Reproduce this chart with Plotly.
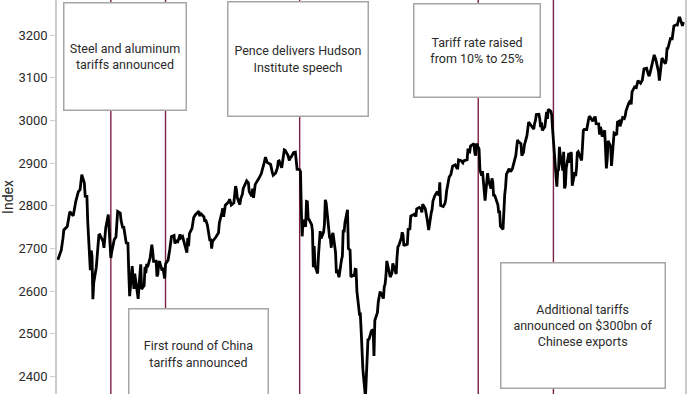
import plotly.graph_objects as go

dates = [
"2017-12-29","2018-01-02","2018-01-04","2018-01-05","2018-01-09","2018-01-12","2018-01-16","2018-01-18","2018-01-19","2018-01-22","2018-01-24","2018-01-26","2018-01-29","2018-01-30","2018-02-01","2018-02-02","2018-02-05","2018-02-06","2018-02-07","2018-02-08","2018-02-09","2018-02-12","2018-02-14","2018-02-15","2018-02-16","2018-02-20","2018-02-21","2018-02-23","2018-02-26","2018-02-27","2018-02-28","2018-03-01","2018-03-02","2018-03-05","2018-03-07","2018-03-09","2018-03-12","2018-03-13","2018-03-15","2018-03-16","2018-03-19","2018-03-21","2018-03-22","2018-03-23","2018-03-26","2018-03-27","2018-03-28","2018-03-29","2018-04-02","2018-04-03","2018-04-04","2018-04-05","2018-04-06","2018-04-09","2018-04-10","2018-04-11","2018-04-12","2018-04-13","2018-04-16","2018-04-18","2018-04-19","2018-04-20","2018-04-23","2018-04-24","2018-04-25","2018-04-26","2018-04-27","2018-04-30","2018-05-01","2018-05-02","2018-05-03","2018-05-04","2018-05-07","2018-05-09","2018-05-10","2018-05-11","2018-05-14","2018-05-15","2018-05-17","2018-05-18","2018-05-21","2018-05-22","2018-05-24","2018-05-25","2018-05-29","2018-05-30","2018-05-31","2018-06-01","2018-06-04","2018-06-06","2018-06-08","2018-06-12","2018-06-13","2018-06-14","2018-06-15","2018-06-18","2018-06-19","2018-06-20","2018-06-22","2018-06-25","2018-06-26","2018-06-27","2018-06-28","2018-06-29","2018-07-02","2018-07-05","2018-07-06","2018-07-09","2018-07-10","2018-07-11","2018-07-12","2018-07-13","2018-07-17","2018-07-18","2018-07-20","2018-07-23","2018-07-25","2018-07-26","2018-07-27","2018-07-30","2018-07-31","2018-08-02","2018-08-03","2018-08-07","2018-08-09","2018-08-10","2018-08-13","2018-08-14","2018-08-15","2018-08-16","2018-08-17","2018-08-21","2018-08-24","2018-08-27","2018-08-29","2018-08-31","2018-09-04","2018-09-06","2018-09-07","2018-09-10","2018-09-12","2018-09-13","2018-09-14","2018-09-17","2018-09-18","2018-09-20","2018-09-21","2018-09-24","2018-09-26","2018-09-27","2018-09-28","2018-10-01","2018-10-03","2018-10-04","2018-10-05","2018-10-08","2018-10-09","2018-10-10","2018-10-11","2018-10-12","2018-10-15","2018-10-16","2018-10-17","2018-10-18","2018-10-19","2018-10-22","2018-10-23","2018-10-24","2018-10-25","2018-10-26","2018-10-29","2018-10-30","2018-10-31","2018-11-01","2018-11-02","2018-11-05","2018-11-06","2018-11-07","2018-11-08","2018-11-09","2018-11-12","2018-11-13","2018-11-14","2018-11-15","2018-11-16","2018-11-19","2018-11-20","2018-11-21","2018-11-23","2018-11-26","2018-11-27","2018-11-28","2018-11-29","2018-11-30","2018-12-03","2018-12-04","2018-12-06","2018-12-07","2018-12-10","2018-12-11","2018-12-12","2018-12-13","2018-12-14","2018-12-17","2018-12-18","2018-12-19","2018-12-20","2018-12-21","2018-12-24","2018-12-26","2018-12-27","2018-12-28","2018-12-31",
"2019-01-02","2019-01-03","2019-01-04","2019-01-07","2019-01-08","2019-01-09","2019-01-10","2019-01-11","2019-01-14","2019-01-15","2019-01-16","2019-01-17","2019-01-18","2019-01-22","2019-01-23","2019-01-24","2019-01-25","2019-01-28","2019-01-29","2019-01-30","2019-01-31","2019-02-01","2019-02-04","2019-02-05","2019-02-06","2019-02-07","2019-02-08","2019-02-11","2019-02-12","2019-02-14","2019-02-15","2019-02-19","2019-02-21","2019-02-22","2019-02-25","2019-02-27","2019-02-28","2019-03-01","2019-03-04","2019-03-06","2019-03-07","2019-03-08","2019-03-11","2019-03-12","2019-03-13","2019-03-15","2019-03-18","2019-03-20","2019-03-21","2019-03-22","2019-03-25","2019-03-27","2019-03-28","2019-03-29","2019-04-01","2019-04-03","2019-04-05","2019-04-08","2019-04-10","2019-04-11","2019-04-12","2019-04-15","2019-04-17","2019-04-18","2019-04-22","2019-04-23","2019-04-24","2019-04-25","2019-04-26","2019-04-29","2019-04-30","2019-05-01","2019-05-02","2019-05-03","2019-05-06","2019-05-07","2019-05-08","2019-05-09","2019-05-10","2019-05-13","2019-05-14","2019-05-15","2019-05-16","2019-05-17","2019-05-20","2019-05-21","2019-05-22","2019-05-23","2019-05-24","2019-05-28","2019-05-29","2019-05-30","2019-05-31","2019-06-03","2019-06-04","2019-06-05","2019-06-06","2019-06-07","2019-06-10","2019-06-12","2019-06-14","2019-06-18","2019-06-20","2019-06-21","2019-06-24","2019-06-25","2019-06-27","2019-06-28","2019-07-01","2019-07-03","2019-07-05","2019-07-09","2019-07-10","2019-07-11","2019-07-12","2019-07-15","2019-07-16","2019-07-17","2019-07-18","2019-07-19","2019-07-22","2019-07-24","2019-07-25","2019-07-26","2019-07-29","2019-07-30","2019-07-31","2019-08-01","2019-08-02","2019-08-05","2019-08-06","2019-08-07","2019-08-08","2019-08-09","2019-08-12","2019-08-13","2019-08-14","2019-08-15","2019-08-16","2019-08-19","2019-08-20","2019-08-21","2019-08-22","2019-08-23","2019-08-26","2019-08-27","2019-08-28","2019-08-29","2019-08-30","2019-09-03","2019-09-04","2019-09-05","2019-09-06","2019-09-09","2019-09-11","2019-09-12","2019-09-13","2019-09-16","2019-09-18","2019-09-19","2019-09-20","2019-09-23","2019-09-24","2019-09-25","2019-09-26","2019-09-27","2019-09-30","2019-10-01","2019-10-02","2019-10-03","2019-10-04","2019-10-07","2019-10-08","2019-10-09","2019-10-10","2019-10-11","2019-10-14","2019-10-15","2019-10-17","2019-10-18","2019-10-21","2019-10-23","2019-10-24","2019-10-25","2019-10-28","2019-10-30","2019-10-31","2019-11-01","2019-11-04","2019-11-06","2019-11-07","2019-11-08","2019-11-11","2019-11-13","2019-11-15","2019-11-18","2019-11-20","2019-11-21","2019-11-22","2019-11-25","2019-11-27","2019-11-29","2019-12-02","2019-12-03","2019-12-04","2019-12-05","2019-12-06","2019-12-09","2019-12-10","2019-12-11","2019-12-12","2019-12-13","2019-12-16","2019-12-18","2019-12-19","2019-12-20","2019-12-23","2019-12-24","2019-12-26","2019-12-27","2019-12-30","2019-12-31"]

index_values = [
2673.6,2695.8,2724.0,2743.2,2751.3,2786.2,2776.4,2798.0,2810.3,2833.0,2837.5,2872.9,2853.5,2822.4,2822.0,2762.1,2648.9,2695.1,2681.7,2581.0,2619.6,2656.0,2698.6,2731.2,2732.2,2716.3,2701.3,2747.3,2779.6,2744.3,2713.8,2677.7,2691.3,2720.9,2726.8,2786.6,2783.0,2765.3,2747.3,2752.0,2712.9,2711.9,2643.7,2588.3,2658.6,2612.6,2605.0,2640.9,2581.9,2614.5,2644.7,2662.8,2604.5,2613.2,2656.9,2642.2,2664.0,2656.3,2677.8,2708.6,2693.1,2670.1,2670.3,2634.6,2639.4,2666.9,2669.9,2648.1,2654.8,2635.7,2629.7,2663.4,2672.6,2697.8,2723.1,2727.7,2730.1,2711.5,2720.1,2713.0,2733.0,2724.4,2727.8,2721.3,2689.9,2724.0,2705.3,2734.6,2746.9,2772.4,2779.0,2786.9,2775.6,2782.5,2779.7,2773.8,2762.6,2767.3,2754.9,2717.1,2723.1,2699.6,2716.3,2718.4,2726.7,2736.6,2759.8,2784.2,2793.8,2774.0,2798.3,2801.3,2809.6,2815.6,2801.8,2807.0,2846.1,2837.4,2818.8,2802.6,2816.3,2827.2,2840.4,2858.5,2853.6,2833.3,2821.9,2840.0,2818.4,2840.7,2850.1,2863.0,2874.7,2896.7,2914.0,2901.5,2896.7,2878.1,2871.7,2877.1,2888.9,2904.2,2905.0,2888.8,2904.3,2930.8,2929.7,2919.4,2906.0,2914.0,2914.0,2924.6,2925.5,2901.6,2885.6,2884.4,2880.3,2785.7,2728.4,2767.1,2750.8,2809.9,2809.2,2768.8,2767.8,2755.9,2740.7,2656.1,2705.6,2658.7,2641.3,2682.6,2711.7,2740.4,2723.1,2738.3,2755.5,2813.9,2806.8,2781.0,2726.2,2722.2,2701.6,2730.2,2736.3,2690.7,2641.9,2649.9,2632.6,2673.5,2682.2,2743.8,2737.8,2760.2,2790.4,2700.1,2696.0,2633.1,2637.7,2636.8,2651.1,2650.5,2600.0,2545.9,2546.2,2507.0,2467.4,2416.6,2351.1,2467.7,2488.8,2485.7,2506.9,
2510.0,2447.9,2531.9,2549.7,2574.4,2585.0,2596.6,2596.3,2582.6,2610.3,2616.1,2636.0,2670.7,2632.9,2638.7,2642.3,2664.8,2643.9,2640.0,2681.1,2704.1,2706.5,2724.9,2737.7,2731.6,2706.1,2707.9,2709.8,2744.7,2745.7,2775.6,2779.8,2774.9,2792.7,2796.1,2792.4,2784.5,2803.7,2792.8,2771.5,2748.9,2743.1,2783.3,2791.5,2810.9,2822.5,2832.9,2824.2,2854.9,2800.7,2798.4,2805.4,2815.4,2834.4,2867.2,2873.4,2892.7,2895.8,2888.2,2888.3,2907.4,2905.6,2900.5,2905.0,2908.0,2933.7,2927.3,2926.2,2939.9,2943.0,2945.8,2923.7,2917.5,2945.6,2932.5,2884.1,2879.4,2870.7,2881.4,2811.9,2834.4,2851.0,2876.3,2859.5,2840.2,2864.4,2856.3,2822.2,2826.1,2802.4,2783.0,2788.9,2752.1,2744.5,2803.3,2826.2,2843.5,2873.3,2886.7,2879.8,2887.0,2917.8,2954.2,2950.5,2945.4,2917.4,2924.9,2941.8,2964.3,2995.8,2990.4,2979.6,2993.1,2999.9,3013.8,3014.3,3004.0,2984.4,2995.1,2976.6,2985.0,3019.6,3003.7,3025.9,3021.0,3013.2,2980.4,2953.6,2932.1,2844.7,2881.8,2884.0,2938.1,2918.7,2882.7,2926.3,2840.6,2847.6,2888.7,2923.7,2900.5,2924.4,2923.0,2847.1,2878.4,2869.2,2887.9,2924.6,2926.5,2906.3,2937.8,2976.0,2978.7,2978.4,3000.9,3009.6,3007.4,2998.0,3006.7,3006.8,2992.1,2991.8,2966.6,2984.9,2977.6,2961.8,2976.7,2940.3,2887.6,2910.6,2952.0,2938.8,2893.1,2919.4,2938.1,2970.3,2966.2,2995.7,2998.0,2986.2,3006.7,3004.5,3010.3,3022.6,3039.4,3046.8,3037.6,3066.9,3078.3,3076.8,3085.2,3093.1,3087.0,3094.0,3120.5,3122.0,3108.5,3103.5,3110.3,3133.6,3153.6,3141.0,3113.9,3093.2,3112.8,3117.4,3145.9,3136.0,3132.5,3141.6,3168.6,3168.8,3191.5,3191.1,3205.4,3221.2,3224.0,3223.4,3239.9,3240.0,3221.3,3230.8]

event_dates = ["2018-03-01", "2018-05-04", "2018-10-08", "2019-05-05", "2019-08-01"]
event_labels = [
    "Steel and aluminum<br>tariffs announced",
    "First round of China<br>tariffs announced",
    "Pence delivers Hudson<br>Institute speech",
    "Tariff rate raised<br>from 10% to 25%",
    "Additional tariffs<br>announced on $300bn of<br>Chinese exports",
]
y_ticks = [2400, 2500, 2600, 2700, 2800, 2900, 3000, 3100, 3200]

# box layout (paper centre x, paper centre y, width px, height px)
box_layout = [
    (0.1083, 0.8566, 121, 106),
    (0.2253, 0.1015, 138, 89),
    (0.3838, 0.8500, 139, 113),
    (0.6688, 0.8718, 125, 92),
    (0.8376, 0.1739, 163, 124),
]

fig = go.Figure()
fig.add_trace(go.Scatter(
    x=dates, y=index_values, mode="lines",
    line=dict(color="#000000", width=2.8),
    hoverinfo="skip", showlegend=False,
))

for d in event_dates:
    fig.add_shape(type="line", xref="x", yref="paper", x0=d, x1=d, y0=0, y1=1,
                  line=dict(color="#7a2148", width=1.4), layer="below")

for lab, (bx, by, bw, bh) in zip(event_labels, box_layout):
    fig.add_annotation(
        xref="paper", yref="paper", x=bx, y=by, xanchor="center", yanchor="middle",
        text=lab, showarrow=False, align="center", valign="middle",
        width=bw, height=bh, bgcolor="#ffffff", bordercolor="#a6a6a6",
        borderwidth=1.5, borderpad=0,
        font=dict(family="Roboto", size=12.5, color="#2b2b2b"),
    )

fig.update_layout(
    width=700, height=394,
    margin=dict(l=57, r=15, t=0, b=0, autoexpand=False),
    paper_bgcolor="#ffffff", plot_bgcolor="#ffffff",
    font=dict(family="Roboto", size=13, color="#2b2b2b"),
    xaxis=dict(range=["2017-12-28", "2020-01-02"], showgrid=False, showline=False,
               showticklabels=False, ticks="", zeroline=False, automargin=False),
    yaxis=dict(range=[2359, 3282], tickvals=y_ticks, showgrid=False, zeroline=False,
               showline=True, linecolor="#cccccc", linewidth=1.5, mirror=True,
               ticks="outside", ticklen=5, tickcolor="#cccccc", automargin=False,
               tickfont=dict(family="Roboto", size=13, color="#2b2b2b"),
               title=dict(text="Index", standoff=6,
                          font=dict(family="Roboto", size=14, color="#2b2b2b"))),
)

fig.write_html("out.html", config={"displayModeBar": False},
               post_script="document.body.style.margin='0';document.body.style.padding='0';")
